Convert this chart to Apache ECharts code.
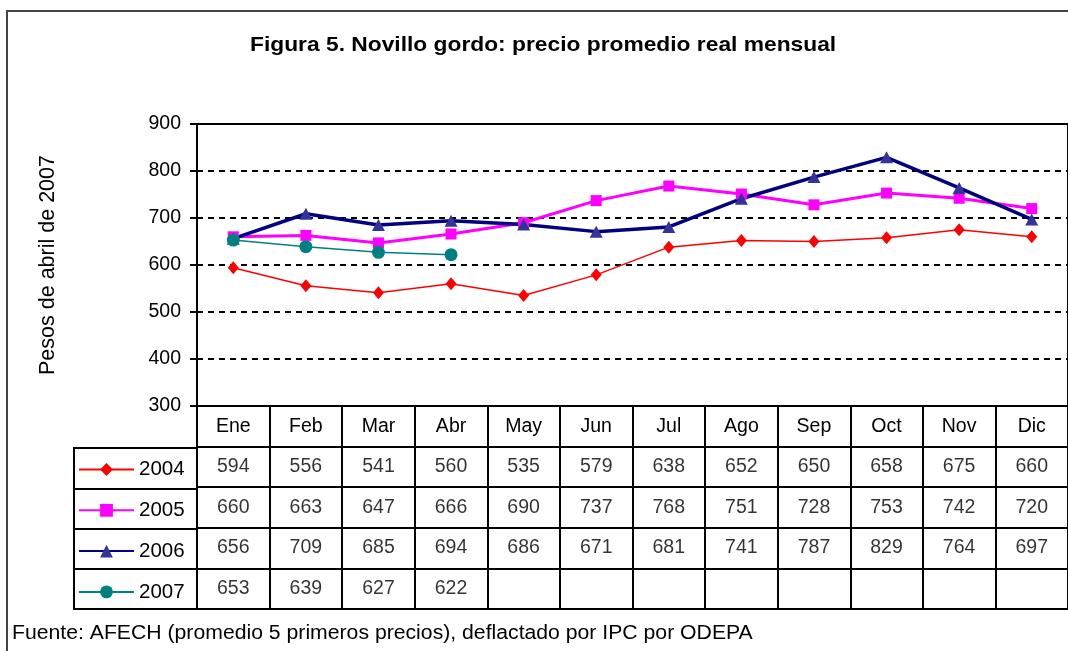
<!DOCTYPE html>
<html>
<head>
<meta charset="utf-8">
<script src="https://cdn.jsdelivr.net/npm/echarts@6/dist/echarts.min.js"></script>
<style>
  html, body { margin: 0; padding: 0; background: #fff; }
  #main { width: 1068px; height: 651px; }
</style>
</head>
<body>
<div id="main"></div>
<script>
// datos
var meses = ['Ene', 'Feb', 'Mar', 'Abr', 'May', 'Jun', 'Jul', 'Ago', 'Sep', 'Oct', 'Nov', 'Dic']
var anios = ['2004', '2005', '2006', '2007']
var v2004 = [594, 556, 541, 560, 535, 579, 638, 652, 650, 658, 675, 660]
var v2005 = [660, 663, 647, 666, 690, 737, 768, 751, 728, 753, 742, 720]
var v2006 = [656, 709, 685, 694, 686, 671, 681, 741, 787, 829, 764, 697]
var v2007 = [653, 639, 627, 622, null, null, null, null, null, null, null, null]
var yTicks = { min: 300, max: 900, interval: 100 }

var FONT = 'Liberation Sans, Arial, sans-serif'
var valores = [v2004, v2005, v2006, v2007]

// celdas de la tabla: [mes, fila, valor]
var celdas = []
valores.forEach(function (serie, r) {
    serie.forEach(function (v, i) {
        if (v != null) celdas.push([i, r + 1, v])
    })
})

var chart = echarts.init(document.getElementById('main'))

chart.setOption({
    animation: false,
    legend: {
        data: anios,
        orient: 'vertical',
        left: 78,
        top: 459,
        padding: 0,
        itemWidth: 55,
        itemHeight: 16,
        itemGap: 19.8,
        textStyle: { fontFamily: FONT, fontSize: 20.5, color: '#000' }
    },
    graphic: [
        {
            type: 'rect',
            shape: { x: 7, y: 11, width: 1120, height: 700 },
            style: { fill: 'none', stroke: '#444', lineWidth: 2 }
        },
        {
            // titulo (algo ensanchado como en el original)
            type: 'text',
            x: 250, y: 45, scaleX: 1.085,
            style: {
                text: 'Figura 5. Novillo gordo: precio promedio real mensual',
                fontFamily: FONT, fontSize: 21, fontWeight: 'bold', fill: '#000',
                verticalAlign: 'middle'
            }
        },
        {
            type: 'text',
            x: 12, y: 633, scaleX: 1.06,
            style: {
                text: 'Fuente: AFECH (promedio 5 primeros precios), deflactado por IPC por ODEPA',
                fontFamily: FONT, fontSize: 20, fill: '#000',
                verticalAlign: 'middle'
            }
        }
    ],
    grid: [
        // grafico
        { left: 197, top: 124, right: -14, bottom: 245, show: true, borderColor: '#000', borderWidth: 2, backgroundColor: 'transparent' },
        // tabla de valores
        { left: 197, top: 406, right: -14, height: 203, show: true, borderColor: '#000', borderWidth: 2, backgroundColor: 'transparent' },
        // columna de leyenda
        { left: 74, top: 448, width: 123, height: 161, show: true, borderColor: '#000', borderWidth: 2, backgroundColor: 'transparent' }
    ],
    xAxis: [
        {
            gridIndex: 0, type: 'category', data: meses, boundaryGap: true,
            axisLine: { show: false }, axisTick: { show: false }, axisLabel: { show: false }
        },
        {
            gridIndex: 1, type: 'category', data: meses, boundaryGap: true, position: 'top',
            axisLine: { show: false }, axisTick: { show: false },
            axisLabel: { inside: true, margin: 21, verticalAlign: 'middle', fontFamily: FONT, fontSize: 19.5, color: '#000' },
            splitLine: { show: true, lineStyle: { color: '#000', width: 2 } }
        },
        {
            gridIndex: 2, type: 'value', show: false
        }
    ],
    yAxis: [
        {
            gridIndex: 0, type: 'value', min: yTicks.min, max: yTicks.max, interval: yTicks.interval,
            name: 'Pesos de abril de 2007', nameLocation: 'middle', nameGap: 138, nameRotate: 90,
            nameTextStyle: { fontFamily: FONT, fontSize: 21.5, color: '#000' },
            axisLine: { show: true, lineStyle: { color: '#000', width: 2 } },
            axisTick: { show: true, length: 7, lineStyle: { color: '#000', width: 2 } },
            axisLabel: { margin: 16, fontFamily: FONT, fontSize: 19.5, color: '#000' },
            splitLine: { show: true, lineStyle: { color: '#000', width: 2, type: [6, 5] } }
        },
        {
            gridIndex: 1, type: 'category', inverse: true, data: [''].concat(anios),
            axisLine: { show: false }, axisTick: { show: false }, axisLabel: { show: false },
            splitLine: { show: true, lineStyle: { color: '#000', width: 2 } }
        },
        {
            gridIndex: 2, type: 'category', inverse: true, data: anios,
            axisLine: { show: false }, axisTick: { show: false }, axisLabel: { show: false },
            splitLine: { show: true, lineStyle: { color: '#000', width: 2 } }
        }
    ],
    series: [
        {
            name: '2004', type: 'line', data: v2004,
            symbol: 'diamond', symbolSize: [11, 13],
            lineStyle: { color: '#ff0000', width: 1.5 },
            itemStyle: { color: '#ff0000' }
        },
        {
            name: '2005', type: 'line', data: v2005,
            symbol: 'rect', symbolSize: 11,
            lineStyle: { color: '#ff00ff', width: 3 },
            itemStyle: { color: '#ff00ff' }
        },
        {
            name: '2006', type: 'line', data: v2006,
            symbol: 'triangle', symbolSize: [13, 12],
            lineStyle: { color: '#000080', width: 3.5 },
            itemStyle: { color: '#333399' }
        },
        {
            name: '2007', type: 'line', data: v2007,
            symbol: 'circle', symbolSize: 13,
            lineStyle: { color: '#008080', width: 1.5 },
            itemStyle: { color: '#008080' }
        },
        {
            name: 'tabla', type: 'scatter', xAxisIndex: 1, yAxisIndex: 1,
            data: celdas, symbolSize: 1,
            itemStyle: { color: 'rgba(0,0,0,0)' },
            label: {
                show: true, position: 'inside',
                fontFamily: FONT, fontSize: 19.5, color: '#000',
                formatter: function (p) { return p.value[2] }
            }
        }
    ]
})
</script>
</body>
</html>
